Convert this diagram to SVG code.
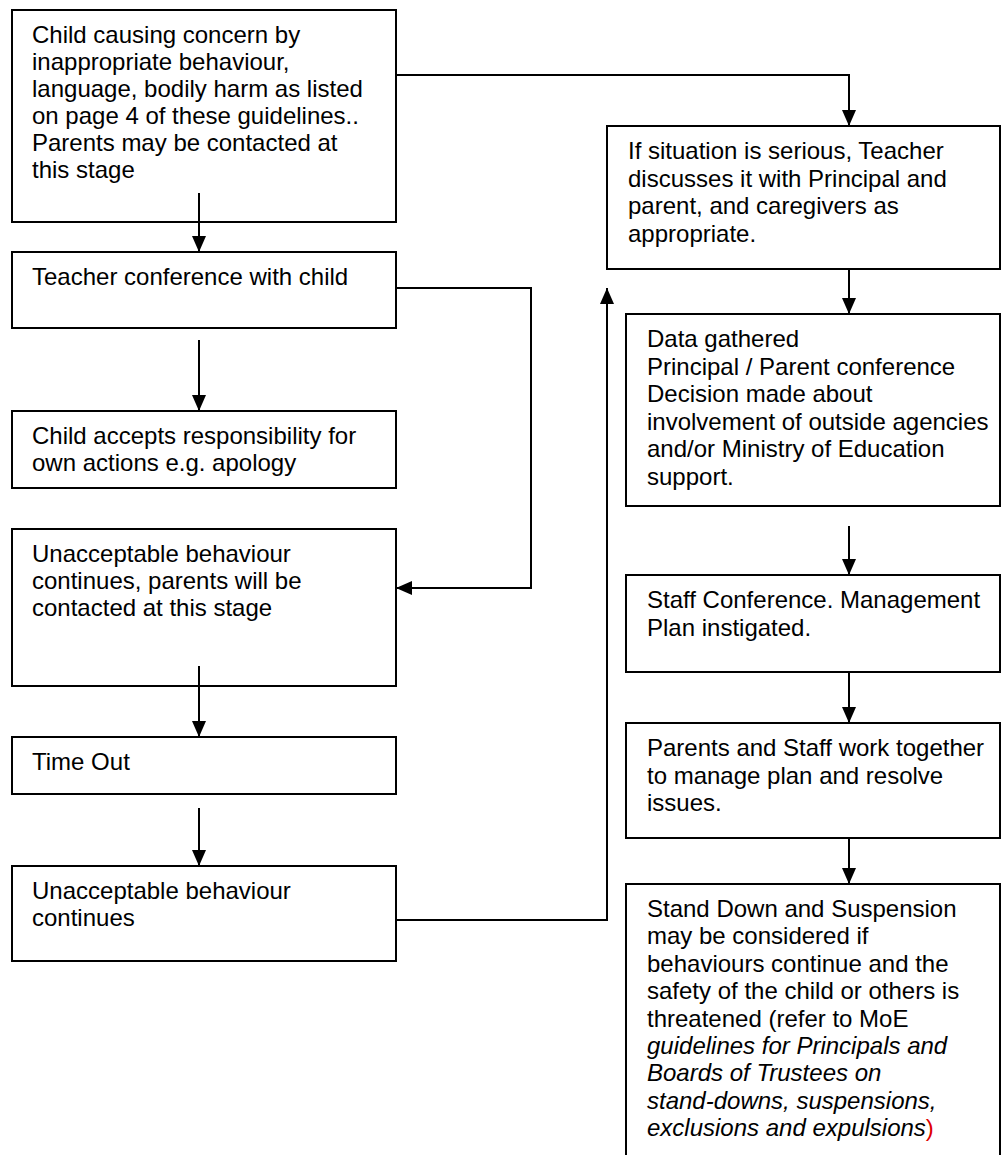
<svg xmlns="http://www.w3.org/2000/svg" width="1002" height="1155" viewBox="0 0 1002 1155">
<style>
.box{fill:#fff;stroke:#000;stroke-width:2}
.t{font-family:"Liberation Sans",Arial,sans-serif;font-size:24px;fill:#000}
.i{font-style:italic}
.c{fill:none;stroke:#000;stroke-width:2}
</style>
<defs>
<marker id="ah" markerUnits="userSpaceOnUse" markerWidth="16" markerHeight="14" refX="16" refY="7" orient="auto">
<path d="M0,0 L16,7 L0,14 z" fill="#000"/>
</marker>
</defs>
<rect width="1002" height="1155" fill="#fff"/>
<g id="n1"><rect class="box" x="12" y="10" width="384" height="212"/>
<text class="t" x="32" y="43">Child causing concern by</text>
<text class="t" x="32" y="70">inappropriate behaviour,</text>
<text class="t" x="32" y="97">language, bodily harm as listed</text>
<text class="t" x="32" y="124">on page 4 of these guidelines..</text>
<text class="t" x="32" y="151">Parents may be contacted at</text>
<text class="t" x="32" y="178">this stage</text></g>
<g id="n2"><rect class="box" x="12" y="252" width="384" height="76"/>
<text class="t" x="32" y="285">Teacher conference with child</text></g>
<g id="n3"><rect class="box" x="12" y="411" width="384" height="77"/>
<text class="t" x="32" y="444">Child accepts responsibility for</text>
<text class="t" x="32" y="471">own actions e.g. apology</text></g>
<g id="n4"><rect class="box" x="12" y="529" width="384" height="157"/>
<text class="t" x="32" y="562">Unacceptable behaviour</text>
<text class="t" x="32" y="589">continues, parents will be</text>
<text class="t" x="32" y="616">contacted at this stage</text></g>
<g id="n5"><rect class="box" x="12" y="737" width="384" height="57"/>
<text class="t" x="32" y="770">Time Out</text></g>
<g id="n6"><rect class="box" x="12" y="866" width="384" height="95"/>
<text class="t" x="32" y="899">Unacceptable behaviour</text>
<text class="t" x="32" y="926">continues</text></g>
<g id="r1"><rect class="box" x="607" y="126" width="393" height="143"/>
<text class="t" x="628" y="159">If situation is serious, Teacher</text>
<text class="t" x="628" y="186.5">discusses it with Principal and</text>
<text class="t" x="628" y="214">parent, and caregivers as</text>
<text class="t" x="628" y="241.5">appropriate.</text></g>
<g id="r2"><rect class="box" x="626" y="314" width="374" height="192"/>
<text class="t" x="647" y="347">Data gathered</text>
<text class="t" x="647" y="374.5">Principal / Parent conference</text>
<text class="t" x="647" y="402">Decision made about</text>
<text class="t" x="647" y="429.5">involvement of outside agencies</text>
<text class="t" x="647" y="457">and/or Ministry of Education</text>
<text class="t" x="647" y="484.5">support.</text></g>
<g id="r3"><rect class="box" x="626" y="575" width="374" height="97"/>
<text class="t" x="647" y="608">Staff Conference. Management</text>
<text class="t" x="647" y="635.5">Plan instigated.</text></g>
<g id="r4"><rect class="box" x="626" y="723" width="374" height="115"/>
<text class="t" x="647" y="756">Parents and Staff work together</text>
<text class="t" x="647" y="783.5">to manage plan and resolve</text>
<text class="t" x="647" y="811">issues.</text></g>
<g id="r5"><rect class="box" x="626" y="884" width="374" height="290"/>
<text class="t" x="647" y="917">Stand Down and Suspension</text>
<text class="t" x="647" y="944.4">may be considered if</text>
<text class="t" x="647" y="971.8">behaviours continue and the</text>
<text class="t" x="647" y="999.2">safety of the child or others is</text>
<text class="t" x="647" y="1026.6">threatened (refer to MoE</text>
<text class="t i" x="647" y="1054">guidelines for Principals and</text>
<text class="t i" x="647" y="1081.4">Boards of Trustees on</text>
<text class="t i" x="647" y="1108.8">stand-downs, suspensions,</text>
<text class="t" x="647" y="1136.2"><tspan class="i">exclusions and expulsions</tspan><tspan fill="#e00000">)</tspan></text></g>
<g id="connectors">
<path class="c" d="M199,193 V252" marker-end="url(#ah)"/>
<path class="c" d="M199,340 V411" marker-end="url(#ah)"/>
<path class="c" d="M199,666 V737" marker-end="url(#ah)"/>
<path class="c" d="M199,808 V866" marker-end="url(#ah)"/>
<path class="c" d="M396,288 H531 V588 H396" marker-end="url(#ah)"/>
<path class="c" d="M396,920 H607 V288" marker-end="url(#ah)"/>
<path class="c" d="M396,75 H849 V126" marker-end="url(#ah)"/>
<path class="c" d="M849,269 V314" marker-end="url(#ah)"/>
<path class="c" d="M849,526 V575" marker-end="url(#ah)"/>
<path class="c" d="M849,672 V723" marker-end="url(#ah)"/>
<path class="c" d="M849,838 V884" marker-end="url(#ah)"/>
</g>
</svg>
